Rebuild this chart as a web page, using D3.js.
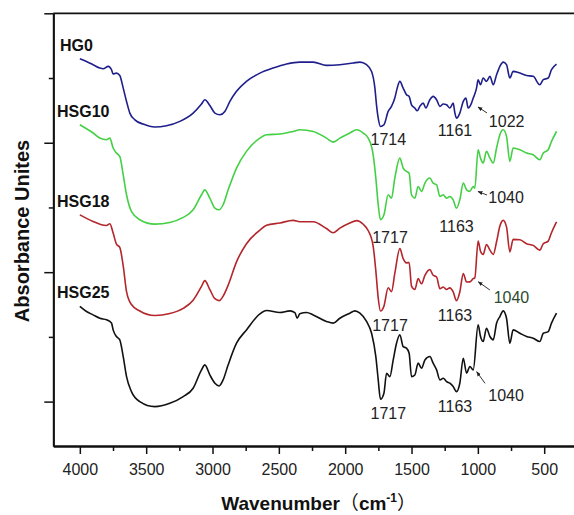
<!DOCTYPE html>
<html>
<head>
<meta charset="utf-8">
<script src="https://cdn.jsdelivr.net/npm/d3@7"></script>
<style>
  html, body { margin: 0; padding: 0; background: #fff; }
  svg { display: block; font-family: "Liberation Sans", Arial, sans-serif; }
</style>
</head>
<body>
<svg id="chart" width="574" height="515"></svg>
<script>
// ---------------- data ----------------
const seriesNames = ["HG0", "HSG10", "HSG18", "HSG25"];

const hg0Wavenumber = [4000,3950,3900,3849,3824,3786,3761,3749,3724,3699,3673,3648,3623,3585,3523,3435,3347,3246,3146,3083,3058,3020,2982,2945,2907,2869,2819,2744,2643,2543,2442,2342,2241,2141,2040,1940,1889,1839,1801,1776,1764,1751,1734,1708,1676,1651,1626,1608,1588,1563,1538,1518,1500,1475,1457,1437,1412,1392,1362,1337,1311,1286,1261,1236,1211,1186,1173,1161,1136,1110,1090,1073,1048,1035,1023,1010,998,980,960,935,909,884,859,834,809,784,759,734,683,633,583,533,507,470,445,407];
const hg0Absorbance = [3.649,3.628,3.603,3.577,3.572,3.590,3.564,3.531,3.538,3.520,3.422,3.319,3.229,3.177,3.144,3.121,3.131,3.165,3.229,3.299,3.332,3.288,3.229,3.216,3.242,3.319,3.397,3.474,3.538,3.577,3.608,3.623,3.623,3.598,3.603,3.616,3.623,3.603,3.551,3.422,3.293,3.190,3.126,3.139,3.242,3.281,3.345,3.422,3.474,3.422,3.371,3.358,3.293,3.268,3.247,3.281,3.306,3.268,3.332,3.358,3.332,3.281,3.299,3.293,3.268,3.306,3.229,3.190,3.229,3.319,3.345,3.268,3.306,3.345,3.376,3.422,3.487,3.448,3.500,3.474,3.513,3.448,3.525,3.590,3.623,3.603,3.500,3.551,3.538,3.520,3.513,3.448,3.487,3.500,3.564,3.608];

const hsg10Wavenumber = [4000,3900,3849,3799,3774,3749,3724,3699,3673,3648,3611,3548,3435,3322,3221,3146,3083,3058,3020,2982,2950,2920,2882,2819,2744,2643,2593,2492,2392,2342,2241,2141,2090,2040,1965,1914,1864,1826,1789,1769,1751,1734,1708,1676,1651,1626,1588,1563,1538,1518,1500,1475,1450,1425,1399,1362,1337,1311,1286,1261,1236,1211,1186,1161,1136,1110,1085,1061,1035,1023,998,980,960,935,909,884,859,834,809,784,759,734,683,633,583,533,507,470,445,407];
const hsg10Absorbance = [3.139,3.075,3.036,3.023,3.036,2.959,2.920,2.894,2.752,2.598,2.469,2.405,2.371,2.384,2.423,2.482,2.598,2.636,2.572,2.495,2.482,2.521,2.636,2.804,2.933,3.036,3.062,3.067,3.087,3.100,3.087,3.036,3.005,3.036,3.075,3.100,3.075,3.036,2.907,2.727,2.521,2.405,2.443,2.598,2.572,2.727,2.881,2.804,2.778,2.765,2.598,2.572,2.662,2.624,2.688,2.727,2.688,2.675,2.585,2.598,2.572,2.585,2.559,2.495,2.559,2.688,2.636,2.624,2.662,2.649,2.946,2.881,2.843,2.933,2.881,2.843,2.959,3.062,3.100,3.049,2.856,2.959,2.946,2.920,2.907,2.868,2.920,2.946,3.010,3.087];

const hsg18Wavenumber = [4000,3900,3849,3799,3774,3749,3724,3699,3673,3648,3611,3548,3435,3322,3221,3146,3083,3058,3020,2982,2950,2920,2882,2819,2744,2643,2593,2492,2392,2342,2241,2141,2090,2040,1965,1914,1864,1826,1789,1769,1751,1734,1708,1676,1651,1626,1588,1563,1538,1518,1500,1475,1450,1425,1399,1362,1337,1311,1286,1261,1236,1211,1186,1161,1136,1110,1085,1061,1035,1023,998,980,960,935,909,884,859,834,809,784,759,734,683,633,583,533,507,470,445,407];
const hsg18Absorbance = [2.443,2.392,2.371,2.361,2.374,2.302,2.217,2.191,2.049,1.850,1.750,1.700,1.665,1.680,1.720,1.783,1.890,1.935,1.865,1.795,1.780,1.815,1.900,2.080,2.220,2.325,2.362,2.380,2.400,2.390,2.390,2.337,2.305,2.340,2.380,2.398,2.370,2.320,2.200,2.010,1.800,1.700,1.737,1.880,1.850,1.990,2.182,2.105,2.072,2.075,1.892,1.866,1.950,1.910,1.976,2.020,1.976,1.963,1.872,1.886,1.866,1.879,1.847,1.780,1.847,1.990,1.924,1.925,1.950,1.956,2.240,2.162,2.137,2.214,2.170,2.137,2.235,2.356,2.400,2.350,2.157,2.253,2.250,2.220,2.207,2.170,2.220,2.240,2.305,2.388];

const hsg25Wavenumber = [4000,3950,3900,3849,3799,3774,3761,3749,3724,3699,3673,3648,3611,3548,3435,3322,3221,3146,3083,3058,3020,2982,2950,2920,2882,2819,2744,2643,2593,2492,2417,2379,2362,2342,2291,2241,2141,2090,2040,1965,1927,1889,1839,1801,1769,1751,1734,1708,1688,1663,1638,1613,1588,1563,1538,1518,1500,1475,1450,1425,1399,1362,1337,1311,1286,1261,1236,1211,1186,1161,1136,1110,1085,1060,1035,998,980,960,935,909,884,859,834,809,784,759,734,683,633,583,533,507,470,445,407];
const hsg25Absorbance = [1.735,1.696,1.670,1.644,1.632,1.619,1.606,1.554,1.503,1.477,1.348,1.193,1.077,1.000,0.961,0.987,1.039,1.103,1.245,1.284,1.206,1.142,1.121,1.168,1.284,1.451,1.554,1.678,1.704,1.688,1.701,1.688,1.644,1.678,1.688,1.670,1.619,1.606,1.644,1.683,1.701,1.683,1.619,1.528,1.348,1.168,1.018,1.065,1.219,1.193,1.322,1.451,1.516,1.425,1.413,1.374,1.193,1.206,1.297,1.258,1.322,1.348,1.297,1.245,1.168,1.181,1.155,1.142,1.116,1.077,1.142,1.335,1.220,1.271,1.245,1.593,1.503,1.464,1.567,1.503,1.477,1.606,1.657,1.701,1.644,1.451,1.554,1.528,1.503,1.490,1.464,1.528,1.541,1.606,1.683];

const xTickValues = [4000, 3500, 3000, 2500, 2000, 1500, 1000, 500];
const xMinorTickValues = [3750, 3250, 2750, 2250, 1750, 1250, 750, 250];
const yTickValues = [1, 2, 3, 4];
const yMinorTickValues = [1.5, 2.5, 3.5];

// peak annotations: label text, label anchor (wavenumber, absorbance), arrow (from -> to) if any
const peakLabels = [
  { text: "1714", wn: 1675, ab: 2.983 },
  { text: "1161", wn: 1172, ab: 3.052 },
  { text: "1022", wn: 783,  ab: 3.125, arrow: [931, 3.230, 999, 3.276] },
  { text: "1717", wn: 1662, ab: 2.223 },
  { text: "1163", wn: 1161, ab: 2.310 },
  { text: "1040", wn: 787,  ab: 2.532, arrow: [931, 2.596, 999, 2.623] },
  { text: "1717", wn: 1662, ab: 1.542 },
  { text: "1163", wn: 1172, ab: 1.619 },
  { text: "1040", wn: 747,  ab: 1.762, arrow: [909, 1.862, 997, 1.926], color: "#2e4a2e" },
  { text: "1717", wn: 1675, ab: 0.866 },
  { text: "1163", wn: 1172, ab: 0.916 },
  { text: "1040", wn: 787,  ab: 1.005, arrow: [946, 1.141, 1009, 1.231] }
];

// ---------------- chart ----------------
const svg = d3.select("#chart");
const W = 574, H = 515;
const x = d3.scaleLinear().domain([4200, 200]).range([53.3, 584]);
const y = d3.scaleLinear().domain([0.657, 4]).range([446, 13.3]);

const colors = ["#1f1f8c", "#44d044", "#b3262c", "#111111"];
const series = [
  hg0Wavenumber.map((w, i) => ({ w, a: hg0Absorbance[i] })),
  hsg10Wavenumber.map((w, i) => ({ w, a: hsg10Absorbance[i] })),
  hsg18Wavenumber.map((w, i) => ({ w, a: hsg18Absorbance[i] })),
  hsg25Wavenumber.map((w, i) => ({ w, a: hsg25Absorbance[i] }))
];

const line = d3.line().x(d => x(d.w)).y(d => y(d.a)).curve(d3.curveMonotoneX);

// frame top line
svg.append("line")
  .attr("x1", x(4200)).attr("x2", x(200))
  .attr("y1", y(4)).attr("y2", y(4))
  .attr("stroke", "#111").attr("stroke-width", 1.8);

// curves
series.forEach((s, i) => {
  svg.append("path").datum(s)
    .attr("d", line)
    .attr("fill", "none")
    .attr("stroke", colors[i])
    .attr("stroke-width", 1.6)
    .attr("stroke-linejoin", "round");
});

// series labels
series.forEach((s, i) => {
  svg.append("text")
    .attr("x", i === 0 ? 60 : 57)
    .attr("y", y(s[0].a) - 8)
    .attr("font-size", 16)
    .attr("font-weight", "bold")
    .attr("fill", "#111")
    .text(seriesNames[i]);
});

// axes
const xAxis = svg.append("g").attr("transform", `translate(0,${y.range()[0]})`)
  .call(d3.axisBottom(x).tickValues(xTickValues).tickSize(8).tickSizeOuter(0).tickPadding(10).tickFormat(d3.format("d")));
const xMinor = svg.append("g").attr("transform", `translate(0,${y.range()[0]})`)
  .call(d3.axisBottom(x).tickValues(xMinorTickValues).tickSize(5).tickSizeOuter(0).tickFormat(""));
const yAxis = svg.append("g").attr("transform", `translate(${x.range()[0]},0)`)
  .call(d3.axisLeft(y).tickValues(yTickValues).tickSize(9).tickSizeOuter(0).tickFormat(""));
const yMinor = svg.append("g").attr("transform", `translate(${x.range()[0]},0)`)
  .call(d3.axisLeft(y).tickValues(yMinorTickValues).tickSize(4.5).tickSizeOuter(0).tickFormat(""));

[xAxis, xMinor, yAxis, yMinor].forEach(g => {
  g.select(".domain").attr("stroke", "#111").attr("stroke-width", 1.8);
  g.selectAll(".tick line").attr("stroke", "#111").attr("stroke-width", 1.5);
});
xAxis.selectAll(".tick text")
  .attr("font-size", 16)
  .attr("font-family", "'Liberation Sans', Arial, sans-serif")
  .attr("fill", "#222");

// axis titles
svg.append("text")
  .attr("transform", `translate(29,231) rotate(-90)`)
  .attr("text-anchor", "middle")
  .attr("font-size", 20)
  .attr("font-weight", "bold")
  .attr("fill", "#111")
  .text("Absorbance Unites");

const xt = svg.append("text")
  .attr("x", (x.range()[0] + x.range()[1]) / 2)
  .attr("y", 510)
  .attr("text-anchor", "middle")
  .attr("font-size", 19)
  .attr("font-weight", "bold")
  .attr("fill", "#111");
xt.append("tspan").text("Wavenumber");
xt.append("tspan").attr("font-family", "'Noto Sans CJK SC', sans-serif").attr("font-weight", "normal").text("（");
xt.append("tspan").text("cm");
xt.append("tspan").attr("font-size", 12).attr("dy", -8).text("-1");
xt.append("tspan").attr("dy", 8).attr("font-family", "'Noto Sans CJK SC', sans-serif").attr("font-weight", "normal").text("）");

// arrow marker
svg.append("defs").append("marker")
  .attr("id", "arrowhead")
  .attr("viewBox", "0 0 10 10")
  .attr("refX", 9).attr("refY", 5)
  .attr("markerWidth", 5).attr("markerHeight", 5)
  .attr("orient", "auto")
  .append("path").attr("d", "M0,1 L10,5 L0,9 Z").attr("fill", "#222");

// peak annotations
peakLabels.forEach(p => {
  svg.append("text")
    .attr("x", x(p.wn))
    .attr("y", y(p.ab))
    .attr("text-anchor", "middle")
    .attr("font-size", 16)
    .attr("fill", p.color || "#222")
    .text(p.text);
  if (p.arrow) {
    svg.append("line")
      .attr("x1", x(p.arrow[0])).attr("y1", y(p.arrow[1]))
      .attr("x2", x(p.arrow[2])).attr("y2", y(p.arrow[3]))
      .attr("stroke", "#333").attr("stroke-width", 1)
      .attr("marker-end", "url(#arrowhead)");
  }
});
</script>
</body>
</html>
